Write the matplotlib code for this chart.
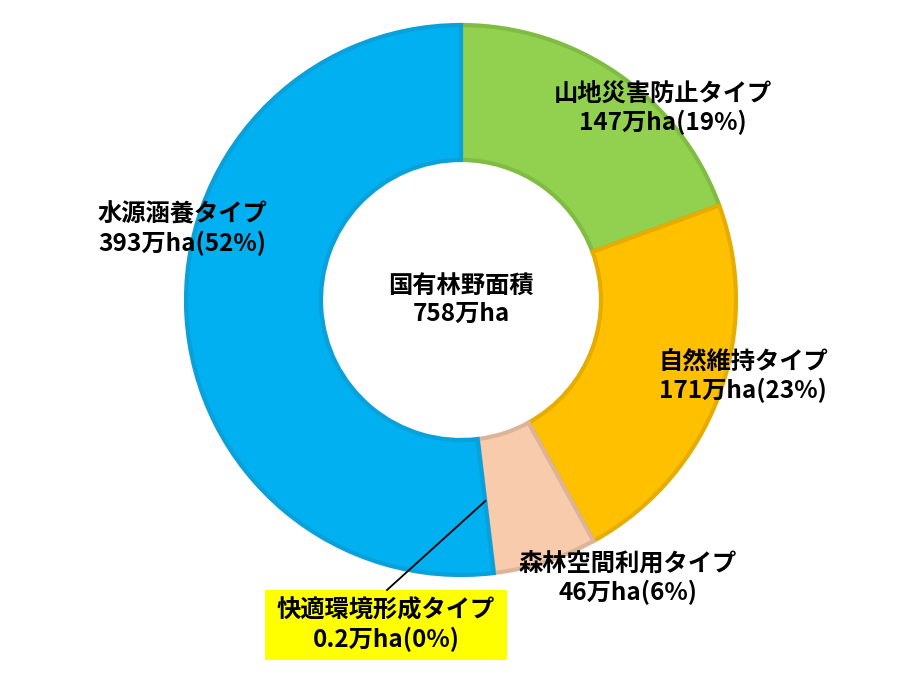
import matplotlib.pyplot as plt
from matplotlib.patches import Rectangle
import numpy as np

plt.rcParams['font.family'] = ['Noto Sans CJK JP', 'DejaVu Sans']

# data (clockwise from 12 o'clock)
names = ['山地災害防止タイプ', '自然維持タイプ', '森林空間利用タイプ', '快適環境形成タイプ', '水源涵養タイプ']
areas = [147, 171, 46, 0.2, 393]          # 万ha
shares = [19, 23, 6, 0, 52]               # %
total = 758
colors = ['#92D050', '#FFC000', '#F8CBAD', '#A5A5A5', '#00B0F0']
edges = ['#80BC42', '#E6AC00', '#DDB498', '#A5A5A5', '#0AA0DA']

fig = plt.figure(figsize=(9.07, 6.92), dpi=100)
ax = fig.add_axes([0, 0, 1, 1])

cx, cy, R, W = 461, 392, 275, 135
wedges, _ = ax.pie(areas, colors=colors, startangle=90, counterclock=False,
                   center=(cx, cy), radius=R,
                   wedgeprops=dict(width=W, linewidth=3))
for w, ec in zip(wedges, edges):
    w.set_edgecolor(ec)
wedges[3].set_linewidth(0)

ax.set_xlim(0, 907)
ax.set_ylim(0, 692)
ax.set_aspect('equal')
ax.axis('off')

fs = 17.5
tkw = dict(ha='center', va='center', fontsize=fs, fontweight='bold', linespacing=1.2)

def lab(i):
    a = f'{areas[i]:g}'
    return f'{names[i]}\n{a}万ha({shares[i]}%)'

ax.text(663, 692 - 108, lab(0), **tkw)
ax.text(743, 692 - 376, lab(1), **tkw)
ax.text(628, 692 - 578, lab(2), **tkw)
ax.text(182, 692 - 229, lab(4), **tkw)
ax.text(cx, cy, f'国有林野面積\n{total}万ha', **tkw)

# small slice label: yellow box + leader line
ax.add_patch(Rectangle((265, 692 - 660), 242, 70, fc='#FFFF00', ec='none', zorder=3))
ax.text(386, 692 - 625, lab(3), zorder=4, **tkw)
w = wedges[3]
ang = np.deg2rad((w.theta1 + w.theta2) / 2)
rm = R - W / 2 - 5
px, py = cx + rm * np.cos(ang), cy + rm * np.sin(ang)
ax.plot([387, px], [692 - 590, py], color='black', lw=1.3, zorder=5)

fig.savefig('out.png', dpi=100)
